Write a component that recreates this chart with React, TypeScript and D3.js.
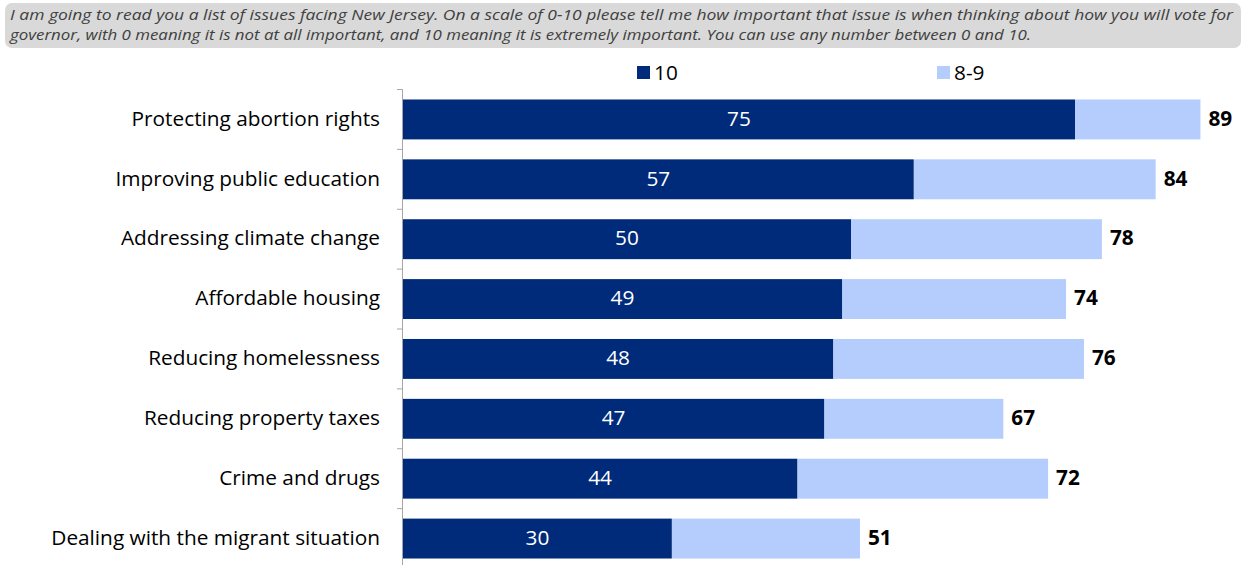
import React from "react";
import * as d3 from "d3";

const categories = [
  "Protecting abortion rights",
  "Improving public education",
  "Addressing climate change",
  "Affordable housing",
  "Reducing homelessness",
  "Reducing property taxes",
  "Crime and drugs",
  "Dealing with the migrant situation",
];
const tenValues = [75, 57, 50, 49, 48, 47, 44, 30];
const totalValues = [89, 84, 78, 74, 76, 67, 72, 51];
const seriesNames = ["10", "8-9"];
const headerLines = [
  "I am going to read you a list of issues facing New Jersey. On a scale of 0-10 please tell me how important that issue is when thinking about how you will vote for",
  "governor, with 0 meaning it is not at all important, and 10 meaning it is extremely important. You can use any number between 0 and 10.",
];

const W = 1244;
const H = 565;
const DARK = "#002b7a";
const LIGHT = "#b4cdfd";
const FONT = "'Open Sans', sans-serif";
const FS = 20.8;

export default function App() {
  const x = d3.scaleLinear().domain([0, 100]).range([403, 403 + 896]);
  const y = d3
    .scaleBand<string>()
    .domain(categories)
    .range([89.5, 568.5])
    .paddingInner(1 / 3)
    .paddingOuter(1 / 6);
  const step = y.step();
  const bounds = d3.range(categories.length + 1).map((i) => 89.5 + i * step);

  return (
    <svg
      width={W}
      height={H}
      style={{ position: "absolute", left: 0, top: 0, display: "block" }}
      fontFamily={FONT}
    >
      <rect x={0} y={0} width={W} height={H} fill="#fff" />
      <rect x={5} y={3} width={1236} height={45} rx={7} fill="#d9d9d9" />
      {headerLines.map((t, i) => (
        <text
          key={i}
          x={10}
          y={20 + i * 20}
          fontSize={15}
          fontStyle="italic"
          fill="#404040"
          textLength={i === 0 ? 1223 : 1021}
          lengthAdjust="spacingAndGlyphs"
        >
          {t}
        </text>
      ))}
      {/* legend */}
      <rect x={637} y={66} width={13} height={13} fill={DARK} />
      <text x={654} y={79.5} fontSize={FS} fill="#000">
        {seriesNames[0]}
      </text>
      <rect x={937} y={66} width={13} height={13} fill={LIGHT} />
      <text x={954} y={79.5} fontSize={FS} fill="#000">
        {seriesNames[1]}
      </text>
      {/* bars */}
      {categories.map((c, i) => {
        const y0 = y(c)!;
        const bh = y.bandwidth();
        return (
          <g key={c}>
            <rect x={x(tenValues[i])} y={y0} width={x(totalValues[i]) - x(tenValues[i])} height={bh} fill={LIGHT} />
            <rect x={x(0)} y={y0} width={x(tenValues[i]) - x(0)} height={bh} fill={DARK} />
            <text
              x={(x(0) + x(tenValues[i])) / 2}
              y={y0 + bh / 2 - 1}
              dy="0.35em"
              textAnchor="middle"
              fontSize={FS}
              fill="#fff"
            >
              {tenValues[i]}
            </text>
            <text
              x={x(totalValues[i]) + 8}
              y={y0 + bh / 2 - 1}
              dy="0.35em"
              fontSize={FS}
              fontWeight="bold"
              fill="#000"
            >
              {totalValues[i]}
            </text>
            <text
              x={380}
              y={y0 + bh / 2 - 1}
              dy="0.35em"
              textAnchor="end"
              fontSize={FS}
              fill="#000"
            >
              {c}
            </text>
          </g>
        );
      })}
      {/* axis */}
      <line x1={402.5} x2={402.5} y1={89.5} y2={H} stroke="#a6a6a6" strokeWidth={1} />
      {bounds.map((b, i) => (
        <line key={i} x1={397} x2={402.5} y1={b} y2={b} stroke="#a6a6a6" strokeWidth={1} />
      ))}
    </svg>
  );
}
